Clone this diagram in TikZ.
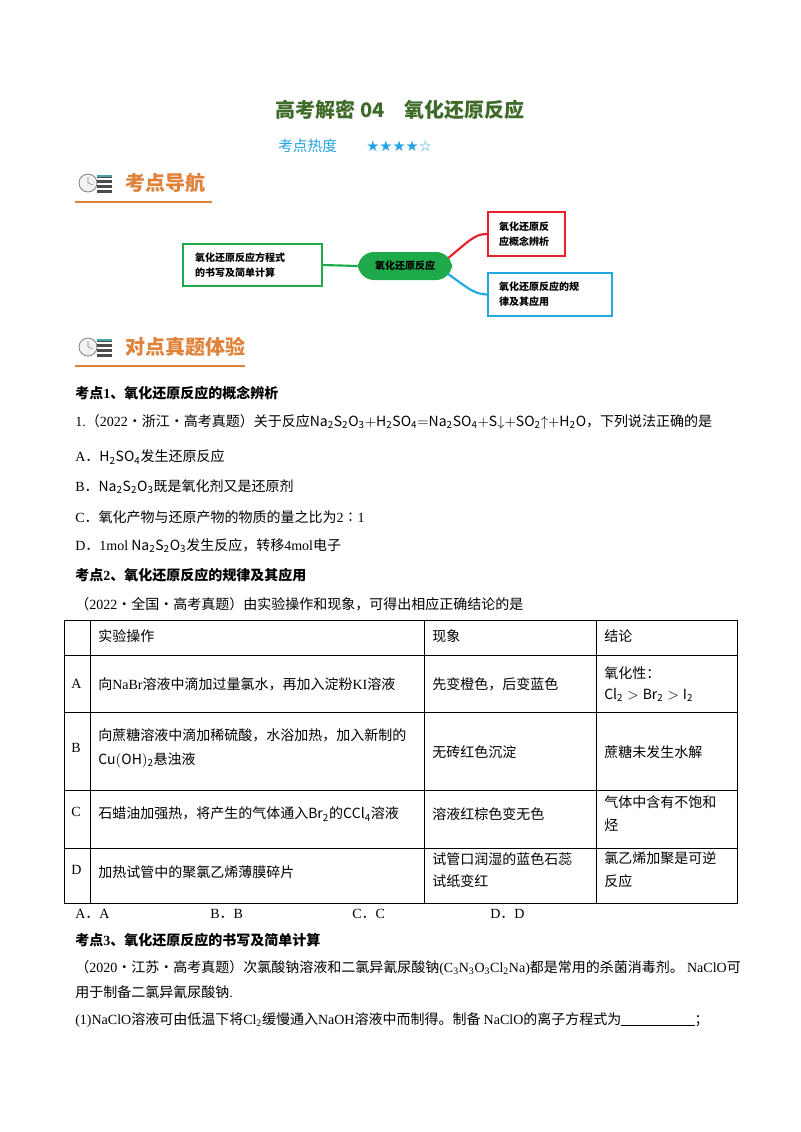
\documentclass[tikz,border=0pt]{standalone}
\usepackage{fontspec}
\setmainfont{Noto Sans CJK SC}
\newfontfamily\lat{Liberation Serif}
\newfontfamily\djv{DejaVu Sans}
\usetikzlibrary{positioning}
\definecolor{ttl}{HTML}{3F6B2A}
\definecolor{hot}{HTML}{22A3E6}
\definecolor{org}{HTML}{E0823A}
\definecolor{mg}{HTML}{1EA94A}
\definecolor{mr}{HTML}{E8202A}
\definecolor{mb}{HTML}{22A8E0}
\newcommand{\fm}[1]{$\mathrm{#1}$}
\begin{document}
\begin{tikzpicture}[x=0.75pt,y=-0.75pt,
  txt/.style={anchor=west,inner sep=0pt,font=\fontsize{10.5}{12}\selectfont},
  bold/.style={txt,font=\fontsize{10.5}{12}\selectfont\bfseries},
  hdr/.style={anchor=west,inner sep=0pt,text=org,font=\fontsize{15}{16}\selectfont\bfseries},
  mbox/.style={draw,line width=1.6pt,align=left,inner sep=5pt,font=\fontsize{7.5}{11}\selectfont\bfseries},
  cell/.style={txt,align=left}]
\useasboundingbox (0,0) rectangle (800,1132);
\fill[white] (0,0) rectangle (800,1132);
% title
\node[inner sep=0pt,text=ttl,font=\fontsize{15}{16}\selectfont\bfseries] (title) at (400,110) {高考解密 04\quad 氧化还原反应};
\node[txt,text=hot,font=\fontsize{11}{12}\selectfont] (heat) at (278,146) {考点热度\qquad{\djv ★★★★☆}};
% header icons
\foreach \yy/\nm in {183/a,347/b}{
  \draw[gray,line width=0.6pt,fill=gray!10] (88,\yy) circle (9);
  \draw[gray] (88,\yy) -- (88,\yy-6) (88,\yy) -- (93,\yy+2);
  \foreach \k in {-7,-2,3,8}{\fill[gray!60!black] (97,\yy+\k-1.5) rectangle (112,\yy+\k+1.5);}
  \fill[teal!70] (97,\yy-8.5) rectangle (112,\yy-6);
}
\node[hdr] (h1) at (125,183) {考点导航};
\draw[org,line width=1.5pt] (75,202) -- (212,202);
\node[hdr] (h2) at (125,347) {对点真题体验};
\draw[org,line width=1.5pt] (75,366) -- (245,366);
% mind map
\node[fill=mg,rounded corners=12pt,minimum width=94pt*0.75,minimum height=28pt*0.75,inner sep=2pt,font=\fontsize{7.5}{9}\selectfont\bfseries] (c) at (405,266) {氧化还原反应};
\node[mbox,draw=mg,minimum width=139*0.75pt,minimum height=42*0.75pt,text width=115*0.75pt] (l) at (252.5,265) {氧化还原反应方程式\\的书写及简单计算};
\node[mbox,draw=mr,minimum width=77*0.75pt,minimum height=44*0.75pt,text width=55*0.75pt] (r1) at (526.5,234) {氧化还原反\\应概念辨析};
\node[mbox,draw=mb,minimum width=124*0.75pt,minimum height=43*0.75pt,text width=102*0.75pt] (r2) at (550,294.5) {氧化还原反应的规\\律及其应用};
\draw[mg,line width=1.6pt] (l.east) -- (c.west);
\draw[mr,line width=1.6pt] (c.east) ++(-4,-8) coordinate (cr1) .. controls (470,240) and (475,234) .. (r1.west);
\draw[mb,line width=1.6pt] (c.east) ++(-4,8) coordinate (cr2) .. controls (470,290) and (475,294) .. (r2.west);
% section 1
\node[bold] (k1) at (75,393) {考点{\lat 1}、氧化还原反应的概念辨析};
\node[txt] (q1) at (75,422) {{\lat 1.}（{\lat 2022}·浙江·高考真题）关于反应\fm{Na_2S_2O_3{+}H_2SO_4{=}Na_2SO_4{+}S{\downarrow}{+}SO_2{\uparrow}{+}H_2O}，下列说法正确的是};
\node[txt] (oa) at (75,457) {{\lat A}．\fm{H_2SO_4}发生还原反应};
\node[txt] (ob) at (75,487) {{\lat B}．\fm{Na_2S_2O_3}既是氧化剂又是还原剂};
\node[txt] (oc) at (75,517) {{\lat C}．氧化产物与还原产物的物质的量之比为{\lat 2}∶{\lat 1}};
\node[txt] (od) at (75,546) {{\lat D}．{\lat 1mol} \fm{Na_2S_2O_3}发生反应，转移{\lat 4mol}电子};
% section 2
\node[bold] (k2) at (75,575) {考点{\lat 2}、氧化还原反应的规律及其应用};
\node[txt] (q2) at (75,604) {（{\lat 2022}·全国·高考真题）由实验操作和现象，可得出相应正确结论的是};
\draw[line width=0.6pt] (64,620) rectangle (737,903);
\foreach \yy in {655,712,790,848}{\draw[line width=0.6pt] (64,\yy) -- (737,\yy);}
\foreach \xx in {90,424,596}{\draw[line width=0.6pt] (\xx,620) -- (\xx,903);}
\node[cell] (t1) at (98,636) {实验操作};
\node[cell] (t2) at (432,636) {现象};
\node[cell] (t3) at (604,636) {结论};
\node[cell] (ra) at (71,684) {\lat A};
\node[cell] (rb) at (71,748) {\lat B};
\node[cell] (rc) at (71,812) {\lat C};
\node[cell] (rd) at (71,870) {\lat D};
\node[cell] (a1) at (98,684) {向{\lat NaBr}溶液中滴加过量氯水，再加入淀粉{\lat KI}溶液};
\node[cell] (a2) at (432,684) {先变橙色，后变蓝色};
\node[cell] (a3) at (604,684) {氧化性：\\[4pt]\fm{Cl_2>Br_2>I_2}};
\node[cell] (b1) at (98,748) {向蔗糖溶液中滴加稀硫酸，水浴加热，加入新制的\\[6pt]\fm{Cu(OH)_2}悬浊液};
\node[cell] (b2) at (432,752) {无砖红色沉淀};
\node[cell] (b3) at (604,752) {蔗糖未发生水解};
\node[cell] (c1) at (98,814) {石蜡油加强热，将产生的气体通入\fm{Br_2}的\fm{CCl_4}溶液};
\node[cell] (c2) at (432,814) {溶液红棕色变无色};
\node[cell] (c3) at (604,814) {气体中含有不饱和\\[5pt]烃};
\node[cell] (d1) at (98,872) {加热试管中的聚氯乙烯薄膜碎片};
\node[cell] (d2) at (432,870) {试管口润湿的蓝色石蕊\\[5pt]试纸变红};
\node[cell] (d3) at (604,870) {氯乙烯加聚是可逆\\[5pt]反应};
\node[txt] (ans1) at (75,914) {{\lat A}．{\lat A}};
\node[txt] (ans2) at (210,914) {{\lat B}．{\lat B}};
\node[txt] (ans3) at (352,914) {{\lat C}．{\lat C}};
\node[txt] (ans4) at (490,914) {{\lat D}．{\lat D}};
% section 3
\node[bold] (k3) at (75,940) {考点{\lat 3}、氧化还原反应的书写及简单计算};
\node[txt] (p1) at (75,968) {（{\lat 2020}·江苏·高考真题）次氯酸钠溶液和二氯异氰尿酸钠{\lat (C\textsubscript{3}N\textsubscript{3}O\textsubscript{3}Cl\textsubscript{2}Na)}都是常用的杀菌消毒剂。 {\lat NaClO}可};
\node[txt] (p2) at (75,992) {用于制备二氯异氰尿酸钠{\lat .}};
\node[txt] (p3) at (75,1020) {{\lat (1)NaClO}溶液可由低温下将{\lat Cl\textsubscript{2}}缓慢通入{\lat NaOH}溶液中而制得。制备 {\lat NaClO}的离子方程式为\rule[-1pt]{55pt}{0.5pt}；};
\end{tikzpicture}
\end{document}
